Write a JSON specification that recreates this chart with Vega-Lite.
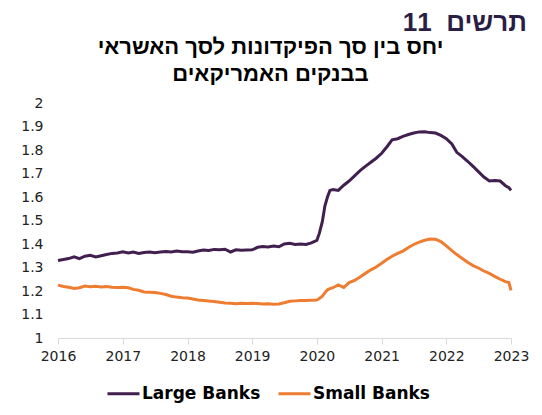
{
  "$schema": "https://vega.github.io/schema/vega-lite/v6.json",
  "padding": {"left": 20, "top": 10, "right": 10, "bottom": 5},
  "title": {"text": "תרשים \u00a011", "anchor": "end", "font": "Liberation Sans", "fontSize": 26, "fontWeight": "bold", "color": "#2B1E45", "offset": 2, "dx": -2, "dy": 2},
  "vconcat": [
    {
      "width": 453,
      "height": 235,
      "title": {"text": ["יחס בין סך הפיקדונות לסך האשראי", "בבנקים האמריקאים"], "anchor": "middle", "font": "Liberation Sans", "fontSize": 22, "fontWeight": "bold", "color": "#000000", "lineHeight": 27, "offset": 10, "dx": -14},
      "data": {"values": [
        {"d": "2016-01-01T00:00", "Large Banks": 1.330, "Small Banks": 1.225},
        {"d": "2016-02-01T00:00", "Large Banks": 1.334, "Small Banks": 1.219},
        {"d": "2016-03-01T00:00", "Large Banks": 1.338, "Small Banks": 1.216},
        {"d": "2016-04-01T00:00", "Large Banks": 1.345, "Small Banks": 1.211},
        {"d": "2016-05-01T00:00", "Large Banks": 1.338, "Small Banks": 1.214},
        {"d": "2016-06-01T00:00", "Large Banks": 1.348, "Small Banks": 1.221},
        {"d": "2016-07-01T00:00", "Large Banks": 1.352, "Small Banks": 1.218},
        {"d": "2016-08-01T00:00", "Large Banks": 1.345, "Small Banks": 1.220},
        {"d": "2016-09-01T00:00", "Large Banks": 1.350, "Small Banks": 1.217},
        {"d": "2016-10-01T00:00", "Large Banks": 1.355, "Small Banks": 1.219},
        {"d": "2016-11-01T00:00", "Large Banks": 1.360, "Small Banks": 1.216},
        {"d": "2016-12-01T00:00", "Large Banks": 1.362, "Small Banks": 1.215},
        {"d": "2017-01-01T00:00", "Large Banks": 1.367, "Small Banks": 1.216},
        {"d": "2017-02-01T00:00", "Large Banks": 1.362, "Small Banks": 1.214},
        {"d": "2017-03-01T00:00", "Large Banks": 1.366, "Small Banks": 1.207},
        {"d": "2017-04-01T00:00", "Large Banks": 1.360, "Small Banks": 1.203},
        {"d": "2017-05-01T00:00", "Large Banks": 1.364, "Small Banks": 1.196},
        {"d": "2017-06-01T00:00", "Large Banks": 1.366, "Small Banks": 1.195},
        {"d": "2017-07-01T00:00", "Large Banks": 1.363, "Small Banks": 1.194},
        {"d": "2017-08-01T00:00", "Large Banks": 1.366, "Small Banks": 1.190},
        {"d": "2017-09-01T00:00", "Large Banks": 1.368, "Small Banks": 1.185},
        {"d": "2017-10-01T00:00", "Large Banks": 1.366, "Small Banks": 1.178},
        {"d": "2017-11-01T00:00", "Large Banks": 1.370, "Small Banks": 1.174},
        {"d": "2017-12-01T00:00", "Large Banks": 1.367, "Small Banks": 1.171},
        {"d": "2018-01-01T00:00", "Large Banks": 1.367, "Small Banks": 1.170},
        {"d": "2018-02-01T00:00", "Large Banks": 1.365, "Small Banks": 1.166},
        {"d": "2018-03-01T00:00", "Large Banks": 1.370, "Small Banks": 1.162},
        {"d": "2018-04-01T00:00", "Large Banks": 1.374, "Small Banks": 1.160},
        {"d": "2018-05-01T00:00", "Large Banks": 1.372, "Small Banks": 1.157},
        {"d": "2018-06-01T00:00", "Large Banks": 1.377, "Small Banks": 1.155},
        {"d": "2018-07-01T00:00", "Large Banks": 1.376, "Small Banks": 1.152},
        {"d": "2018-08-01T00:00", "Large Banks": 1.378, "Small Banks": 1.149},
        {"d": "2018-09-01T00:00", "Large Banks": 1.366, "Small Banks": 1.148},
        {"d": "2018-10-01T00:00", "Large Banks": 1.375, "Small Banks": 1.146},
        {"d": "2018-11-01T00:00", "Large Banks": 1.373, "Small Banks": 1.148},
        {"d": "2018-12-01T00:00", "Large Banks": 1.374, "Small Banks": 1.147},
        {"d": "2019-01-01T00:00", "Large Banks": 1.375, "Small Banks": 1.148},
        {"d": "2019-02-01T00:00", "Large Banks": 1.386, "Small Banks": 1.147},
        {"d": "2019-03-01T00:00", "Large Banks": 1.389, "Small Banks": 1.145},
        {"d": "2019-04-01T00:00", "Large Banks": 1.387, "Small Banks": 1.146},
        {"d": "2019-05-01T00:00", "Large Banks": 1.391, "Small Banks": 1.144},
        {"d": "2019-06-01T00:00", "Large Banks": 1.388, "Small Banks": 1.145},
        {"d": "2019-07-01T00:00", "Large Banks": 1.400, "Small Banks": 1.150},
        {"d": "2019-08-01T00:00", "Large Banks": 1.403, "Small Banks": 1.156},
        {"d": "2019-09-01T00:00", "Large Banks": 1.398, "Small Banks": 1.158},
        {"d": "2019-10-01T00:00", "Large Banks": 1.400, "Small Banks": 1.160},
        {"d": "2019-11-01T00:00", "Large Banks": 1.398, "Small Banks": 1.160},
        {"d": "2019-12-01T00:00", "Large Banks": 1.405, "Small Banks": 1.161},
        {"d": "2020-01-01T00:00", "Large Banks": 1.415, "Small Banks": 1.162},
        {"d": "2020-01-15T00:00", "Large Banks": 1.445, "Small Banks": 1.168},
        {"d": "2020-02-01T00:00", "Large Banks": 1.495, "Small Banks": 1.178},
        {"d": "2020-02-15T00:00", "Large Banks": 1.560, "Small Banks": 1.192},
        {"d": "2020-03-01T00:00", "Large Banks": 1.600, "Small Banks": 1.205},
        {"d": "2020-03-15T00:00", "Large Banks": 1.628, "Small Banks": 1.210},
        {"d": "2020-04-01T00:00", "Large Banks": 1.632, "Small Banks": 1.214},
        {"d": "2020-05-01T00:00", "Large Banks": 1.628, "Small Banks": 1.226},
        {"d": "2020-06-01T00:00", "Large Banks": 1.650, "Small Banks": 1.215},
        {"d": "2020-07-01T00:00", "Large Banks": 1.668, "Small Banks": 1.236},
        {"d": "2020-08-01T00:00", "Large Banks": 1.690, "Small Banks": 1.245},
        {"d": "2020-09-01T00:00", "Large Banks": 1.712, "Small Banks": 1.260},
        {"d": "2020-10-01T00:00", "Large Banks": 1.730, "Small Banks": 1.275},
        {"d": "2020-11-01T00:00", "Large Banks": 1.748, "Small Banks": 1.290},
        {"d": "2020-12-01T00:00", "Large Banks": 1.765, "Small Banks": 1.302},
        {"d": "2021-01-01T00:00", "Large Banks": 1.786, "Small Banks": 1.318},
        {"d": "2021-02-01T00:00", "Large Banks": 1.815, "Small Banks": 1.335},
        {"d": "2021-03-01T00:00", "Large Banks": 1.843, "Small Banks": 1.348},
        {"d": "2021-04-01T00:00", "Large Banks": 1.848, "Small Banks": 1.360},
        {"d": "2021-05-01T00:00", "Large Banks": 1.858, "Small Banks": 1.370},
        {"d": "2021-06-01T00:00", "Large Banks": 1.866, "Small Banks": 1.385},
        {"d": "2021-07-01T00:00", "Large Banks": 1.872, "Small Banks": 1.398},
        {"d": "2021-08-01T00:00", "Large Banks": 1.877, "Small Banks": 1.408},
        {"d": "2021-09-01T00:00", "Large Banks": 1.878, "Small Banks": 1.416},
        {"d": "2021-10-01T00:00", "Large Banks": 1.874, "Small Banks": 1.421},
        {"d": "2021-11-01T00:00", "Large Banks": 1.872, "Small Banks": 1.420},
        {"d": "2021-12-01T00:00", "Large Banks": 1.862, "Small Banks": 1.410},
        {"d": "2022-01-01T00:00", "Large Banks": 1.848, "Small Banks": 1.392},
        {"d": "2022-02-01T00:00", "Large Banks": 1.826, "Small Banks": 1.372},
        {"d": "2022-03-01T00:00", "Large Banks": 1.790, "Small Banks": 1.355},
        {"d": "2022-04-01T00:00", "Large Banks": 1.772, "Small Banks": 1.338},
        {"d": "2022-05-01T00:00", "Large Banks": 1.752, "Small Banks": 1.322},
        {"d": "2022-06-01T00:00", "Large Banks": 1.730, "Small Banks": 1.308},
        {"d": "2022-07-01T00:00", "Large Banks": 1.708, "Small Banks": 1.298},
        {"d": "2022-08-01T00:00", "Large Banks": 1.685, "Small Banks": 1.285},
        {"d": "2022-09-01T00:00", "Large Banks": 1.668, "Small Banks": 1.275},
        {"d": "2022-10-01T00:00", "Large Banks": 1.670, "Small Banks": 1.262},
        {"d": "2022-11-01T00:00", "Large Banks": 1.668, "Small Banks": 1.250},
        {"d": "2022-12-01T00:00", "Large Banks": 1.648, "Small Banks": 1.240},
        {"d": "2022-12-20T00:00", "Large Banks": 1.640, "Small Banks": 1.236},
        {"d": "2023-01-01T00:00", "Large Banks": 1.628, "Small Banks": 1.203}
      ]},
      "transform": [{"fold": ["Large Banks", "Small Banks"], "as": ["series", "value"]}],
      "mark": {"type": "line", "strokeWidth": 3},
      "encoding": {
        "x": {
          "field": "d", "type": "temporal",
          "scale": {"domain": [{"year": 2016, "month": 1, "date": 1}, {"year": 2023, "month": 1, "date": 1}]},
          "axis": {
            "title": null, "grid": false, "format": "%Y",
            "values": [{"year": 2016, "month": 1, "date": 1}, {"year": 2017, "month": 1, "date": 1}, {"year": 2018, "month": 1, "date": 1}, {"year": 2019, "month": 1, "date": 1}, {"year": 2020, "month": 1, "date": 1}, {"year": 2021, "month": 1, "date": 1}, {"year": 2022, "month": 1, "date": 1}, {"year": 2023, "month": 1, "date": 1}],
            "domainColor": "#D9D9D9", "tickColor": "#D9D9D9", "tickSize": 6, "labelPadding": 5,
            "labelFont": "DejaVu Sans", "labelFontSize": 14, "labelColor": "#222222", "labelFlush": false
          }
        },
        "y": {
          "field": "value", "type": "quantitative",
          "scale": {"domain": [1, 2]},
          "axis": {
            "title": null, "grid": false, "domain": false, "ticks": false, "labelPadding": 15,
            "values": [1, 1.1, 1.2, 1.3, 1.4, 1.5, 1.6, 1.7, 1.8, 1.9, 2], "format": "~g",
            "labelFont": "DejaVu Sans", "labelFontSize": 14, "labelColor": "#222222"
          }
        },
        "color": {
          "field": "series", "type": "nominal",
          "scale": {"domain": ["Large Banks", "Small Banks"], "range": ["#41204F", "#EE7D31"]},
          "legend": {
            "title": null, "orient": "none", "legendX": 48, "legendY": 273, "direction": "horizontal",
            "symbolType": "stroke", "symbolSize": 1024, "symbolStrokeWidth": 3,
            "labelFont": "DejaVu Sans", "labelFontSize": 17, "labelFontWeight": "bold", "labelColor": "#000000",
            "columnPadding": 11, "labelOffset": 1
          }
        }
      }
    }
  ],
  "config": {"view": {"stroke": null}, "background": "#FFFFFF"}
}
